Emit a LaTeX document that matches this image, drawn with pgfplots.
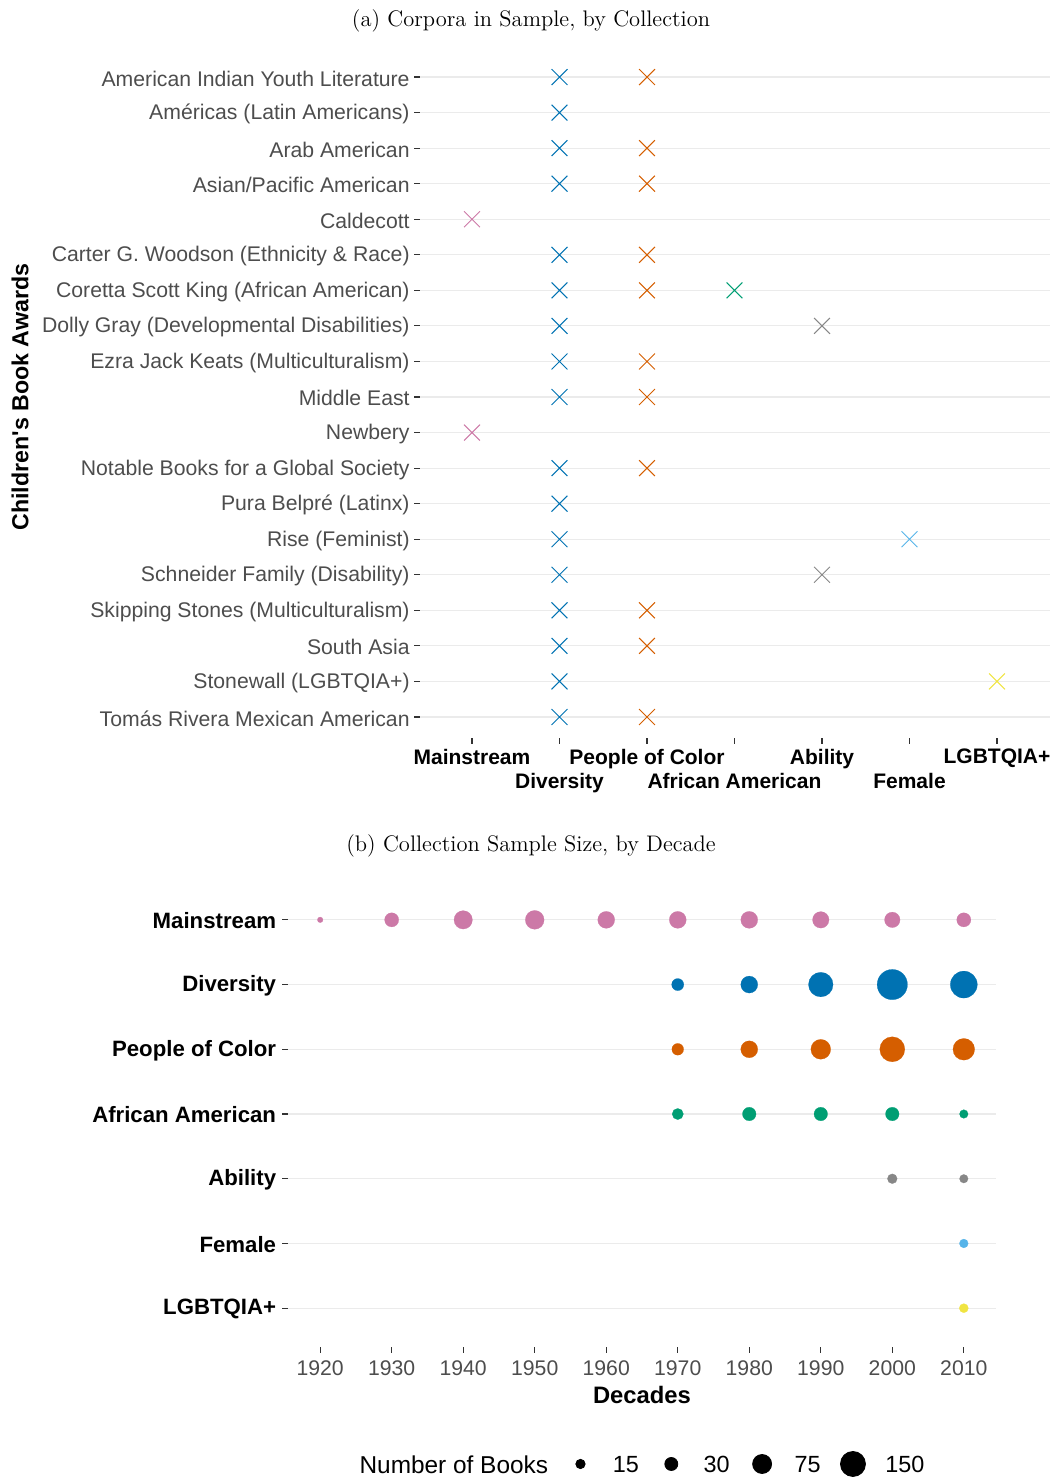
\documentclass[border=0pt]{standalone}
\usepackage{fontspec}
\usepackage{pgfplots}
\pgfplotsset{compat=1.18}
\newfontfamily\arial{Liberation Sans}

\definecolor{cMain}{HTML}{CC79A7}
\definecolor{cDiv}{HTML}{0072B2}
\definecolor{cPoC}{HTML}{D55E00}
\definecolor{cAfAm}{HTML}{009E73}
\definecolor{cAbil}{HTML}{878787}
\definecolor{cFem}{HTML}{56B4E9}
\definecolor{cLGBT}{HTML}{F0E442}
\definecolor{gridc}{HTML}{EBEBEB}
\definecolor{tickc}{HTML}{333333}
\definecolor{labc}{HTML}{4D4D4D}

% 1 px of the reference = 0.5pt
\pgfplotsset{
  ggbase/.style={
    scale only axis,
    clip=false,
    axis line style={draw=none},
    tick align=outside,
    major tick length=2.75pt,
    tick style={line width=0.55pt, color=tickc},
    xtick pos=left, ytick pos=left,
    ymajorgrids,
    grid style={line width=0.55pt, color=gridc},
  },
  cross/.style={only marks, mark=x, mark size=5.6pt, color=#1,
    mark options={line width=0.5pt}},
  bub/.style={scatter, only marks, mark=*, forget plot,
    scatter/use mapped color={draw=#1, fill=#1},
    mark options={line width=0.1pt},
    visualization depends on={0.46+0.469*sqrt(\thisrow{n}) \as \msz},
    scatter/@pre marker code/.append style={/tikz/mark size=\msz}},
}

\begin{document}
\begin{tikzpicture}
\path[use as bounding box] (0,0) rectangle (528pt,-739pt);

\node[font=\fontsize{11.25}{13}\selectfont] at (265.5pt,-10.5pt) {(a) Corpora in Sample, by Collection};
\node[font=\fontsize{11.25}{13}\selectfont] at (265.5pt,-423pt) {(b) Collection Sample Size, by Decade};

% (a) corpora per award
\begin{axis}[ggbase, y dir=reverse,
  at={(209.75pt,-369.15pt)}, anchor=south west,
  width=315pt, height=341.3pt,
  xmin=0.4, xmax=7.6, ymin=0.4, ymax=19.6,
  ytick={1,...,19},
  yticklabels={American Indian Youth Literature, Américas (Latin Americans),
    Arab American, Asian/Pacific American, Caldecott,
    Carter G. Woodson (Ethnicity \& Race), Coretta Scott King (African American),
    Dolly Gray (Developmental Disabilities), Ezra Jack Keats (Multiculturalism),
    Middle East, Newbery, Notable Books for a Global Society, Pura Belpré (Latinx),
    Rise (Feminist), Schneider Family (Disability), Skipping Stones (Multiculturalism),
    South Asia, Stonewall (LGBTQIA+), Tomás Rivera Mexican American},
  yticklabel style={font=\arial\fontsize{10.6}{12}\selectfont, color=labc, inner sep=1pt,
    xshift=-1pt, yshift=-0.7pt},
  xtick={1,3,5,7},
  xticklabels={Mainstream, People of Color, Ability, LGBTQIA+},
  extra x ticks={2,4,6},
  extra x tick labels={Diversity, African American, Female},
  extra x tick style={xmajorgrids=false, xticklabel style={yshift=-12pt}},
  xticklabel style={font=\arial\bfseries\fontsize{10.5}{12}\selectfont, color=black, inner sep=1pt, yshift=-1.5pt},
  ylabel={Children's Book Awards},
  ylabel style={font=\arial\bfseries\fontsize{11.6}{14}\selectfont,
    at={(axis description cs:-0.634,0.5)}, anchor=center},
]
\addplot[cross=cMain] coordinates {(1,5) (1,11)};
\addplot[cross=cDiv] coordinates {(2,1) (2,2) (2,3) (2,4) (2,6) (2,7) (2,8) (2,9) (2,10)
  (2,12) (2,13) (2,14) (2,15) (2,16) (2,17) (2,18) (2,19)};
\addplot[cross=cPoC] coordinates {(3,1) (3,3) (3,4) (3,6) (3,7) (3,9) (3,10) (3,12)
  (3,16) (3,17) (3,19)};
\addplot[cross=cAfAm] coordinates {(4,7)};
\addplot[cross=cAbil] coordinates {(5,8) (5,15)};
\addplot[cross=cFem] coordinates {(6,14)};
\addplot[cross=cLGBT] coordinates {(7,18)};
\end{axis}

% (b) sample size by decade; rows counted from the bottom
\begin{axis}[ggbase,
  at={(144pt,-673.5pt)}, anchor=south west,
  width=354pt, height=233pt,
  xmin=1915.5, xmax=2014.5, ymin=0.4, ymax=7.6,
  xtick={1920,1930,...,2010},
  /pgf/number format/1000 sep={},
  /pgf/number format/assume math mode=true,
  xticklabel style={font=\arial\fontsize{10.6}{12}\selectfont, color=labc, inner sep=1pt, yshift=-3pt},
  ytick={1,...,7},
  yticklabels={LGBTQIA+, Female, Ability, African American, People of Color, Diversity, Mainstream},
  yticklabel style={font=\arial\bfseries\fontsize{11.1}{13}\selectfont, color=black, inner sep=1pt,
    xshift=-2pt, yshift=-0.5pt},
  xlabel={Decades},
  xlabel style={font=\arial\bfseries\fontsize{11.9}{14}\selectfont,
    at={(axis description cs:0.5,-0.103)}, anchor=center},
  legend style={at={(axis description cs:0.5,-0.251)}, anchor=center,
    draw=none, fill=none, legend columns=-1,
    /tikz/column sep=0pt, nodes={inner sep=0pt},
    font=\arial\fontsize{11.7}{14}\selectfont},
]
\addplot[bub=cMain] table {
x y n
1920 7 4
1930 7 43
1940 7 78
1950 7 82
1960 7 65
1970 7 65
1980 7 65
1990 7 61
2000 7 53
2010 7 43
};
\addplot[bub=cDiv] table {
x y n
1970 6 30
1980 6 65
1990 6 147
2000 6 230
2010 6 179
};
\addplot[bub=cPoC] table {
x y n
1970 5 28
1980 5 65
1990 5 92
2000 5 153
2010 5 112
};
\addplot[bub=cAfAm] table {
x y n
1970 4 25
1980 4 39
1990 4 39
2000 4 39
2010 4 13
};
\addplot[bub=cAbil] table {
x y n
2000 3 18
2010 3 13
};
\addplot[bub=cFem] table {
x y n
2010 2 14
};
\addplot[bub=cLGBT] table {
x y n
2010 1 15
};

\addlegendimage{empty legend}
\addlegendentry{\fontsize{12.2}{14}\selectfont Number of Books}
\addlegendimage{legend image code/.code={\path (-16pt,0) (16pt,0);
  \draw[black, only marks, mark=*, mark size=2.33pt] plot coordinates {(0pt,0.1em)};}}
\addlegendentry{15}
\addlegendimage{legend image code/.code={\path (-16pt,0) (16pt,0);
  \draw[black, only marks, mark=*, mark size=3.25pt] plot coordinates {(0pt,0.1em)};}}
\addlegendentry{30}
\addlegendimage{legend image code/.code={\path (-16pt,0) (16pt,0);
  \draw[black, only marks, mark=*, mark size=4.75pt] plot coordinates {(0pt,0.1em)};}}
\addlegendentry{75}
\addlegendimage{legend image code/.code={\path (-16pt,0) (16pt,0);
  \draw[black, only marks, mark=*, mark size=6.25pt] plot coordinates {(0pt,0.1em)};}}
\addlegendentry{150}
\end{axis}
\end{tikzpicture}
\end{document}
